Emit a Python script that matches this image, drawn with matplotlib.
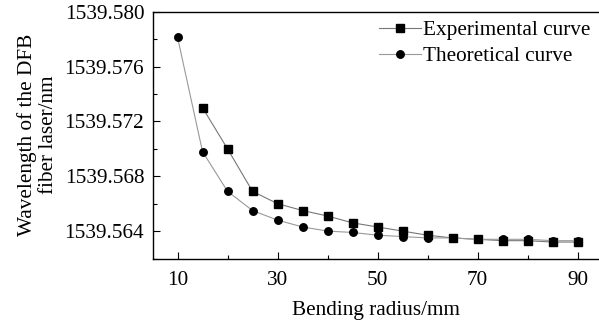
import matplotlib
matplotlib.use('Agg')
import matplotlib.pyplot as plt
from matplotlib.ticker import MultipleLocator, FormatStrFormatter

radius_exp = [15, 20, 25, 30, 35, 40, 45, 50, 55, 60, 65, 70, 75, 80, 85, 90]
wl_exp = [1539.5730, 1539.5700, 1539.5669, 1539.5660, 1539.5655, 1539.5651,
          1539.5646, 1539.5643, 1539.5640, 1539.5637, 1539.5635, 1539.5634,
          1539.5633, 1539.5633, 1539.5632, 1539.5632]

radius_theo = [10, 15, 20, 25, 30, 35, 40, 45, 50, 55, 60, 65, 70, 75, 80, 85, 90]
wl_theo = [1539.57815, 1539.5698, 1539.5669, 1539.5655, 1539.5648, 1539.5643,
           1539.5640, 1539.5639, 1539.5637, 1539.5636, 1539.5635, 1539.5635,
           1539.5634, 1539.5634, 1539.5634, 1539.5633, 1539.5633]

plt.rcParams['font.family'] = ['Liberation Serif', 'DejaVu Serif']
plt.rcParams['font.size'] = 15.3

fig = plt.figure(figsize=(5.99, 3.25), dpi=100)
ax = fig.add_axes([152.5 / 599, 1 - 258.5 / 325, 1 - 152.5 / 599, (258.5 - 11.7) / 325])

ax.plot(radius_exp, wl_exp, color='#777777', lw=0.8, marker='s', ms=5.4,
        mfc='black', mec='black', label='Experimental curve')
ax.plot(radius_theo, wl_theo, color='#999999', lw=0.8, marker='o', ms=5.4,
        mfc='black', mec='black', label='Theoretical curve')

ax.set_xlim(5, 94.3)
ax.set_ylim(1539.5620, 1539.5800)
ax.xaxis.set_minor_locator(MultipleLocator(10))
ax.yaxis.set_major_locator(MultipleLocator(0.004))
ax.yaxis.set_minor_locator(MultipleLocator(0.002))
ax.yaxis.set_major_formatter(FormatStrFormatter('%.3f'))
ax.set_xticks([10, 30, 50, 70, 90])
ax.tick_params(which='both', direction='in', top=False, right=False)
ax.tick_params(which='major', length=5, width=0.8, pad=6)
ax.tick_params(axis='x', which='major', pad=9)
ax.tick_params(which='minor', length=3, width=0.8)
ax.spines['right'].set_visible(False)
for s in ('left', 'bottom', 'top'):
    ax.spines[s].set_linewidth(1.0)

ax.set_xlabel('Bending radius/mm', labelpad=8)
ax.set_ylabel('Wavelength of the DFB\nfiber laser/nm', labelpad=5, linespacing=1.12)

ax.legend(loc='upper right', frameon=False, handlelength=2.0, handletextpad=0.1,
          borderaxespad=0.0, labelspacing=0.3, bbox_to_anchor=(1.0, 1.0))

fig.savefig('out.png', dpi=100)
